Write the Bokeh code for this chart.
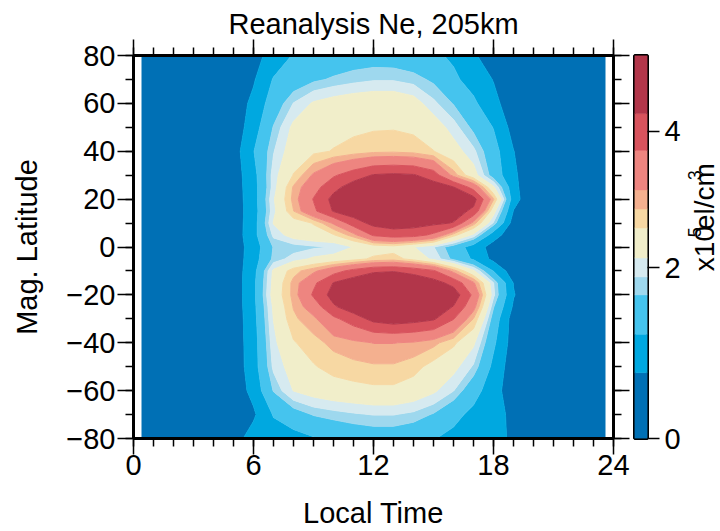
import numpy as np
from bokeh.plotting import figure
from bokeh.layouts import row
from bokeh.models import FixedTicker, Range1d, LinearAxis, ColumnDataSource
from bokeh.core.properties import value
from bokeh.embed import file_html
from bokeh.resources import INLINE

FONT = "Liberation Sans"

# ---------------- data ----------------
local_time = [0.4, 3, 5, 6, 7, 8, 9, 10, 11, 12, 13, 14, 15, 16, 17, 18, 19, 20, 21, 23.6]
mag_lat = [-80, -70, -60, -50, -40, -30, -25, -20, -15, -10, -5, 0, 5, 10, 15, 20, 25, 30, 40, 50, 60, 70, 80]

# electron density (x10^5 el/cm^3), one list per magnetic latitude, along local_time
ne_lat_m80 = [0.30, 0.35, 0.60, 0.95, 1.00, 1.05, 1.18, 1.32, 1.40, 1.45, 1.45, 1.38, 1.24, 1.10, 1.00, 0.90, 0.70, 0.40, 0.35, 0.30]
ne_lat_m70 = [0.30, 0.35, 0.50, 0.70, 1.25, 1.50, 1.70, 1.78, 1.85, 1.90, 1.90, 1.82, 1.65, 1.35, 1.10, 0.95, 0.65, 0.40, 0.35, 0.30]
ne_lat_m60 = [0.30, 0.35, 0.50, 0.90, 1.70, 2.15, 2.30, 2.40, 2.45, 2.50, 2.50, 2.40, 2.20, 1.90, 1.40, 0.95, 0.50, 0.40, 0.35, 0.30]
ne_lat_m50 = [0.30, 0.35, 0.50, 1.00, 1.95, 2.30, 2.55, 2.70, 2.78, 2.82, 2.82, 2.70, 2.45, 2.25, 1.85, 1.10, 0.50, 0.40, 0.35, 0.30]
ne_lat_m40 = [0.30, 0.35, 0.52, 1.00, 2.05, 2.55, 2.75, 2.95, 3.05, 3.15, 3.15, 3.10, 2.95, 2.65, 2.20, 1.30, 0.55, 0.40, 0.35, 0.30]
ne_lat_m30 = [0.30, 0.35, 0.50, 1.05, 2.15, 2.80, 3.05, 3.60, 4.00, 4.45, 4.60, 4.50, 4.35, 3.75, 2.85, 1.50, 0.55, 0.40, 0.35, 0.30]
ne_lat_m25 = [0.30, 0.35, 0.50, 1.08, 2.20, 2.88, 3.40, 4.20, 4.60, 4.85, 4.90, 4.85, 4.65, 4.25, 3.30, 1.70, 0.70, 0.40, 0.35, 0.30]
ne_lat_m20 = [0.30, 0.35, 0.50, 1.10, 2.30, 2.95, 3.80, 4.50, 4.85, 5.00, 5.05, 5.00, 4.85, 4.60, 3.60, 1.95, 0.80, 0.40, 0.35, 0.30]
ne_lat_m15 = [0.30, 0.35, 0.50, 1.10, 2.25, 2.95, 3.60, 4.30, 4.60, 4.75, 4.80, 4.70, 4.50, 4.10, 3.20, 1.90, 0.75, 0.40, 0.35, 0.30]
ne_lat_m10 = [0.30, 0.35, 0.52, 1.05, 2.20, 2.75, 3.05, 3.50, 3.90, 4.20, 4.25, 4.10, 3.80, 3.00, 2.20, 1.20, 0.50, 0.40, 0.35, 0.30]
ne_lat_m05 = [0.30, 0.35, 0.52, 1.00, 1.75, 2.00, 2.20, 2.30, 2.45, 2.65, 2.72, 2.45, 2.05, 1.60, 1.15, 0.65, 0.45, 0.40, 0.35, 0.30]
ne_lat_000 = [0.30, 0.35, 0.55, 0.95, 1.70, 1.76, 1.84, 1.90, 2.15, 2.35, 2.42, 2.15, 1.90, 1.50, 1.00, 0.60, 0.45, 0.40, 0.35, 0.30]
ne_lat_p05 = [0.30, 0.35, 0.52, 1.05, 1.95, 2.30, 2.45, 2.55, 3.00, 3.80, 4.00, 3.95, 3.60, 2.70, 2.05, 0.95, 0.50, 0.40, 0.35, 0.30]
ne_lat_p10 = [0.30, 0.35, 0.55, 1.00, 2.16, 2.40, 2.60, 3.20, 4.00, 4.45, 4.55, 4.50, 4.40, 4.25, 3.00, 1.85, 0.55, 0.40, 0.35, 0.30]
ne_lat_p15 = [0.30, 0.35, 0.55, 0.98, 2.05, 2.85, 3.60, 4.32, 4.60, 4.78, 4.85, 4.80, 4.65, 4.55, 4.15, 2.30, 0.75, 0.40, 0.35, 0.30]
ne_lat_p20 = [0.30, 0.35, 0.55, 1.00, 2.10, 2.95, 3.75, 4.45, 4.80, 5.00, 5.05, 5.00, 4.85, 4.70, 4.50, 2.90, 0.95, 0.40, 0.35, 0.30]
ne_lat_p25 = [0.30, 0.35, 0.55, 1.02, 2.00, 2.90, 3.50, 4.10, 4.55, 4.75, 4.80, 4.75, 4.55, 4.30, 3.50, 2.20, 0.90, 0.40, 0.35, 0.30]
ne_lat_p30 = [0.30, 0.35, 0.55, 1.05, 2.00, 2.60, 3.20, 3.65, 4.00, 4.32, 4.38, 4.33, 4.00, 3.00, 2.30, 1.50, 0.85, 0.45, 0.35, 0.30]
ne_lat_p40 = [0.30, 0.35, 0.55, 1.20, 1.87, 2.35, 2.50, 2.60, 2.70, 2.78, 2.80, 2.75, 2.59, 2.30, 1.95, 1.40, 0.78, 0.45, 0.35, 0.30]
ne_lat_p50 = [0.30, 0.35, 0.50, 1.00, 1.70, 2.22, 2.38, 2.45, 2.50, 2.54, 2.55, 2.50, 2.35, 2.00, 1.60, 1.20, 0.60, 0.40, 0.35, 0.30]
ne_lat_p60 = [0.30, 0.35, 0.50, 0.88, 1.45, 1.90, 2.18, 2.30, 2.38, 2.42, 2.42, 2.30, 1.95, 1.66, 1.30, 0.90, 0.50, 0.40, 0.35, 0.30]
ne_lat_p70 = [0.30, 0.35, 0.45, 0.72, 1.25, 1.45, 1.62, 1.72, 1.80, 1.86, 1.86, 1.78, 1.62, 1.30, 1.05, 0.75, 0.50, 0.40, 0.35, 0.30]
ne_lat_p80 = [0.30, 0.35, 0.45, 0.60, 0.95, 1.25, 1.35, 1.42, 1.48, 1.50, 1.48, 1.42, 1.30, 1.15, 0.82, 0.55, 0.45, 0.40, 0.35, 0.30]

contour_levels = [0.0, 0.77, 1.22, 1.68, 1.89, 2.14, 2.58, 2.86, 3.14, 3.72, 4.28, 5.2]
band_colors = ["#0070B5", "#00A8E0", "#45C4EE", "#9ED8EE", "#D6EAF0", "#F1EECA",
               "#F7D8A3", "#F4B08F", "#EE8580", "#D8535D", "#B2364A"]
x_ticks = [0, 6, 12, 18, 24]
x_minor = list(range(0, 25))
y_ticks = [-80, -60, -40, -20, 0, 20, 40, 60, 80]
y_minor = list(range(-80, 81, 10))
cbar_tick_values = [0, 2, 4]
# unit label pieces: (text, is_superscript)  ->  x10^5 el/cm^3
unit_pieces = [("x10", False), ("5", True), ("el/cm", False), ("3", True)]
# colour-bar scale of the original is not linear: anchor values -> bar fraction
cbar_anchor_values = [0.0, 2.0, 4.0, 5.2]
cbar_anchor_frac = [0.0, 0.4464, 0.8021, 1.0]

ne = np.array([ne_lat_m80, ne_lat_m70, ne_lat_m60, ne_lat_m50, ne_lat_m40, ne_lat_m30,
               ne_lat_m25, ne_lat_m20, ne_lat_m15, ne_lat_m10, ne_lat_m05, ne_lat_000,
               ne_lat_p05, ne_lat_p10, ne_lat_p15, ne_lat_p20, ne_lat_p25, ne_lat_p30,
               ne_lat_p40, ne_lat_p50, ne_lat_p60, ne_lat_p70, ne_lat_p80])


def minus(v):
    return str(v).replace("-", "\u2212")


def style_axis(ax):
    ax.axis_line_width = 3
    ax.axis_line_color = "black"
    ax.major_tick_line_width = 1.5
    ax.minor_tick_line_width = 1.5
    ax.major_tick_line_color = "black"
    ax.minor_tick_line_color = "black"
    ax.major_tick_in = 0
    ax.major_tick_out = 16
    ax.minor_tick_in = 0
    ax.minor_tick_out = 8
    ax.major_label_text_font = FONT
    ax.major_label_text_font_size = "29px"
    ax.major_label_text_color = "black"
    ax.axis_label_text_font = FONT
    ax.axis_label_text_font_size = "29px"
    ax.axis_label_text_font_style = "normal"
    ax.axis_label_text_color = "black"


# ---------------- main panel ----------------
p = figure(width=633, height=531, x_range=Range1d(0, 24), y_range=Range1d(-80, 80),
           output_backend="svg", toolbar_location=None,
           min_border_left=133, min_border_right=20, min_border_top=55, min_border_bottom=93,
           background_fill_color="white", border_fill_color="white")
p.grid.visible = False
p.outline_line_color = None

line_colors = band_colors + [band_colors[-1]]
p.contour(local_time, mag_lat, ne, levels=contour_levels,
          fill_color=band_colors, line_color=line_colors, line_width=1)

p.title.text = "Reanalysis Ne, 205km"
p.title.align = "center"
p.title.text_font = FONT
p.title.text_font_size = "29px"
p.title.text_font_style = "normal"
p.title.text_color = "black"
p.title.standoff = 0

xb = p.xaxis[0]
yl = p.yaxis[0]
xb.ticker = FixedTicker(ticks=x_ticks, minor_ticks=x_minor)
yl.ticker = FixedTicker(ticks=y_ticks, minor_ticks=y_minor)
style_axis(xb)
style_axis(yl)
xb.axis_label = "Local Time"
yl.axis_label = "Mag. Latitude"
xb.major_label_standoff = 0
xb.axis_label_standoff = 19
yl.major_label_standoff = 2
yl.axis_label_standoff = 20
yl.major_label_overrides = {v: minus(v) for v in y_ticks}

xt = LinearAxis(ticker=FixedTicker(ticks=x_ticks, minor_ticks=x_minor))
yr = LinearAxis(ticker=FixedTicker(ticks=y_ticks, minor_ticks=y_minor))
for ax in (xt, yr):
    style_axis(ax)
    ax.major_label_standoff = 0
    ax.major_label_text_font_size = "0px"
xt.major_label_overrides = {v: "" for v in x_ticks}
yr.major_label_overrides = {v: "" for v in y_ticks}
p.add_layout(xt, "above")
p.add_layout(yr, "right")

# ---------------- colour bar ----------------
edge_frac = np.interp(contour_levels, cbar_anchor_values, cbar_anchor_frac)
tick_frac = [float(round(f, 4)) for f in np.interp(cbar_tick_values, cbar_anchor_values, cbar_anchor_frac)]

cb = figure(width=50, height=531, x_range=Range1d(0, 1), y_range=Range1d(0, 1),
            output_backend="svg", toolbar_location=None,
            x_axis_location=None, y_axis_location="right",
            min_border_left=1, min_border_right=33, min_border_top=55, min_border_bottom=93,
            background_fill_color="white", border_fill_color="white")
cb.grid.visible = False
cb.quad(left=0, right=1, bottom=edge_frac[:-1], top=edge_frac[1:],
        fill_color=band_colors, line_color=band_colors, line_width=0.5)
cb.outline_line_color = "black"
cb.outline_line_width = 3

ya = cb.yaxis[0]
style_axis(ya)
ya.axis_line_color = None
ya.ticker = FixedTicker(ticks=tick_frac, minor_ticks=[])
ya.major_label_overrides = {f: str(v) for f, v in zip(tick_frac, cbar_tick_values)}
ya.major_tick_out = 12
ya.major_label_standoff = 5

# ---------------- unit label (own narrow panel, 37 x 531 px, starts at x=683) ----------------
LAB_X0, LAB_W, LAB_H = 683, 37, 531
MAIN_PX, SUP_PX, GAP_PX = 28, 18, 2
char_w = {"x": 0.5, "1": 0.556, "0": 0.556, "5": 0.556, "3": 0.556,
          "e": 0.556, "l": 0.222, "/": 0.278, "c": 0.5, "m": 0.833}
lens = [sum(char_w[c] for c in t) * (SUP_PX if sup else MAIN_PX) + (0 if sup else GAP_PX)
        for t, sup in unit_pieces]
start_sy = 231 + sum(lens) / 2.0              # screen y where the (upward) text starts
main_cx, sup_cx = 704 - LAB_X0, 694 - LAB_X0  # text middles inside the label panel
xs, ys, sizes, texts = [], [], [], []
sy = start_sy
for (t, sup), L in zip(unit_pieces, lens):
    xs.append((sup_cx if sup else main_cx) / LAB_W)
    ys.append((LAB_H - sy) / LAB_H)
    sizes.append("%dpx" % (SUP_PX if sup else MAIN_PX))
    texts.append(t)
    sy -= L

lab = figure(width=LAB_W, height=LAB_H, x_range=Range1d(0, 1), y_range=Range1d(0, 1),
             output_backend="svg", toolbar_location=None,
             x_axis_location=None, y_axis_location=None,
             min_border=0, background_fill_color="white", border_fill_color="white")
lab.grid.visible = False
lab.outline_line_color = None
lab.text(x="x", y="y", text="text", text_font_size="size",
         source=ColumnDataSource(dict(x=xs, y=ys, text=texts, size=sizes)),
         angle=np.pi / 2, text_align="left", text_baseline="middle",
         text_font=value(FONT), text_color="black")

layout = row(p, cb, lab, spacing=0)
open("out.html", "w").write(file_html(layout, INLINE))
